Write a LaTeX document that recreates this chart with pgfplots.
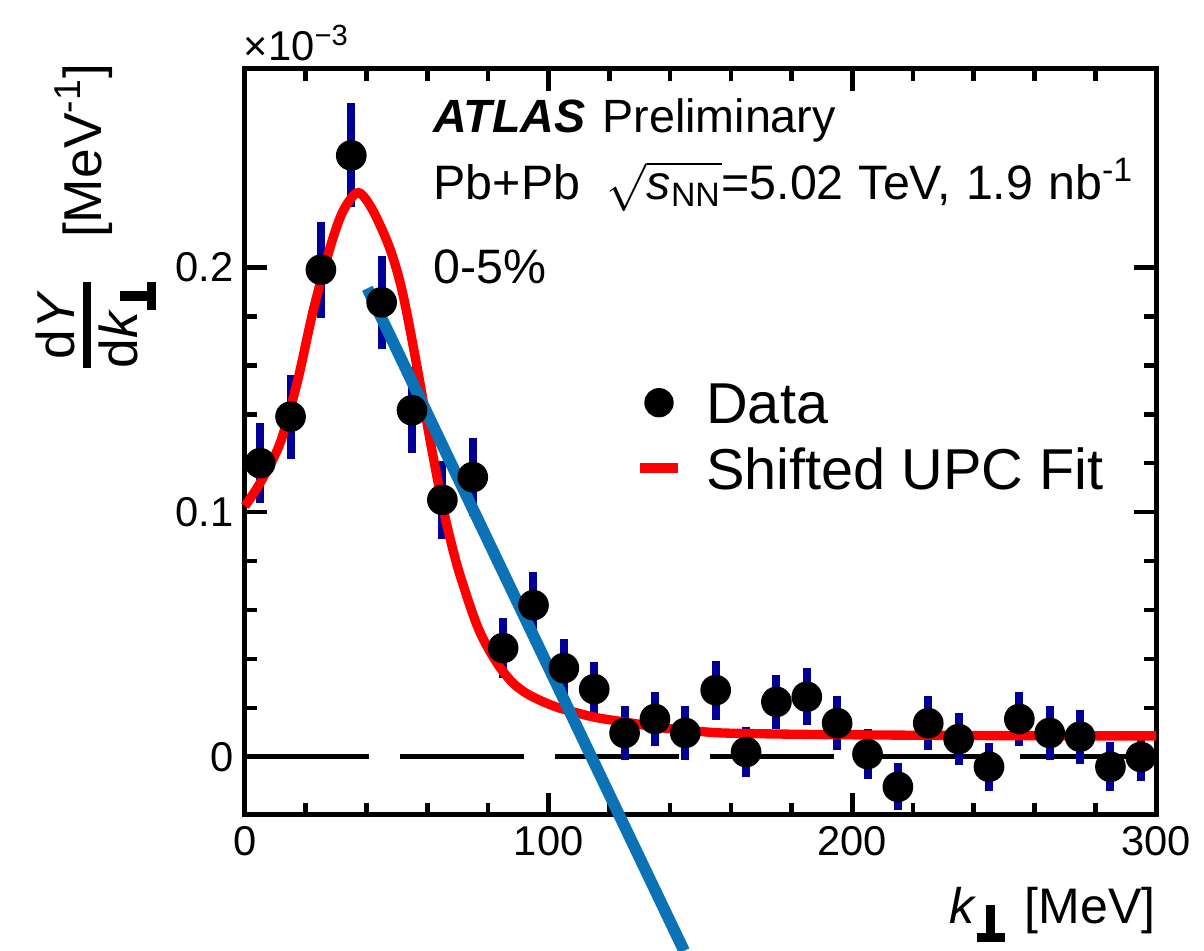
\documentclass[border=0pt]{standalone}
\usepackage{fontspec}
\setmainfont{Liberation Sans}
\usepackage{amsmath}
\usepackage{pgfplots}
\usepackage{pgfplotstable}
\pgfplotsset{compat=1.18}
\definecolor{errblue}{RGB}{0,0,150}
\definecolor{annblue}{RGB}{10,114,181}
\newcommand{\perpsym}{\raisebox{-5.7pt}{\makebox[8.4pt][l]{\rule{8.4pt}{2.8pt}\hspace{-5.6pt}\rule{2.8pt}{11pt}}}}

\pgfplotstableread{
x y e
5 0.120 0.0163
15 0.139 0.0171
25 0.199 0.0196
35 0.2457 0.0212
45 0.1857 0.019
55 0.1416 0.0175
65 0.105 0.016
75 0.1143 0.016
85 0.0445 0.0124
95 0.062 0.0135
105 0.0363 0.0118
115 0.0277 0.011
125 0.0098 0.011
135 0.0155 0.011
145 0.0098 0.011
155 0.0273 0.012
165 0.002 0.0102
175 0.0225 0.011
185 0.0246 0.0116
195 0.0138 0.011
205 0.0012 0.0102
215 -0.0122 0.0096
225 0.0138 0.011
235 0.0073 0.0107
245 -0.004 0.0099
255 0.0155 0.011
265 0.0098 0.011
275 0.0083 0.011
285 -0.004 0.010
295 0.000 0.010
}\datatab

\begin{document}
\begin{tikzpicture}
\begin{axis}[
  at={(0pt,0pt)}, anchor=south west,
  scale only axis, width=273.3pt, height=223.8pt,
  xmin=0, xmax=300, ymin=-0.0237, ymax=0.281,
  xtick={0,100,200,300}, ytick={0,0.1,0.2},
  minor x tick num=4, minor y tick num=4,
  tick align=inside, xtick pos=both, ytick pos=both,
  xticklabel pos=left, yticklabel pos=left,
  major tick length=6.5pt, minor tick length=3.5pt,
  every tick/.style={black, line width=1.4pt},
  axis line style={line width=1.5pt},
  tick label style={font=\fontsize{12.5}{15}\selectfont},
  /pgf/number format/assume math mode=true,
  scaled ticks=false, clip=false,
  xlabel={\textit{k}\perpsym\hspace{6pt}[MeV]},
  xlabel style={at={(axis description cs:1,-0.1448)}, anchor=base east, inner sep=0pt, font=\fontsize{15}{18}\selectfont},
  ylabel={${\mbox{d\textit{Y}}\above 2.4pt \mbox{d\textit{k}\perpsym}}$\hspace{12pt}[MeV\textsuperscript{-1}]},
  ylabel style={at={(axis description cs:-0.0966,1.008)}, anchor=south east, inner sep=0pt, font=\fontsize{16}{19}\selectfont},
  legend style={draw=none, fill=none, at={(axis description cs:0.4281,0.5808)}, anchor=north west,
    inner sep=0pt, outer sep=0pt, font=\fontsize{17.3}{20}\selectfont, row sep=7.0pt,
    nodes={inner sep=0pt, text height=12.6pt, text depth=0pt},
    /tikz/every odd column/.append style={column sep=7pt}},
  legend cell align=left,
]
\addplot[black, line width=1.5pt, dash pattern=on 37.2pt off 9.3pt, forget plot] coordinates {(0,0) (300,0)};

\addplot[only marks, mark=*, mark size=4.4pt, mark options={draw=black, fill=black},
  legend image code/.code={\fill[black] (0pt,0pt) circle (4.2pt); \path (-5.7pt,0pt) (5.7pt,0pt);},
  error bars/.cd, y dir=both, y explicit, error mark=none,
  error bar style={errblue, line width=2.4pt}]
  table[x=x, y=y, y error=e]{\datatab};
\addlegendentry{Data}

\addplot[red, line width=2.8pt, smooth,
  legend image code/.code={\draw[red, line width=3pt] (-5.7pt,0pt) -- (5.7pt,0pt);}] coordinates {
(0,0.1025) (5,0.112) (11.5,0.128) (17.2,0.153) (22.4,0.182) (28,0.208) (32.3,0.223)
(37.3,0.2305) (42.2,0.223) (47.9,0.207) (52,0.189) (56.7,0.159) (61,0.129) (64.4,0.107)
(66.6,0.094) (70,0.0776) (74.3,0.061) (77,0.052) (80,0.0445) (84,0.0365) (88,0.0305)
(92,0.0265) (97,0.0232) (103,0.0202) (110,0.0178) (116,0.016) (127,0.0139) (138,0.0118)
(150,0.0104) (160,0.0097) (194,0.0091) (250,0.0087) (300,0.0086)};
\addlegendentry{Shifted UPC Fit}

\addplot[annblue, line width=3.5pt, forget plot] coordinates {(40.3,0.1914) (144.6,-0.0792)};

\node[anchor=base west, inner sep=0pt, font=\fontsize{14}{16}\selectfont] at (axis description cs:0.2064,0.9142) {\textbf{\textit{ATLAS}}\hspace{5pt}Preliminary};
\node[anchor=base west, inner sep=0pt, font=\fontsize{14.5}{17}\selectfont] at (axis description cs:0.2064,0.8257) {Pb+Pb\hspace{8pt}$\sqrt{\text{\textit{s}}_{\text{NN}}}$=5.02\hspace{4.5pt}TeV,\hspace{4.5pt}1.9\hspace{4.5pt}nb\textsuperscript{-1}};
\node[anchor=base west, inner sep=0pt, font=\fontsize{14.5}{17}\selectfont] at (axis description cs:0.2064,0.7131) {0-5\%};
\node[anchor=base west, inner sep=0pt, font=\fontsize{12.5}{15}\selectfont] at (axis description cs:-0.002,1.012) {×10\textsuperscript{−3}};
\end{axis}
\pgfresetboundingbox
\useasboundingbox (-73.5pt,-40.8pt) rectangle (287.7pt,244.5pt);
\end{tikzpicture}
\end{document}
